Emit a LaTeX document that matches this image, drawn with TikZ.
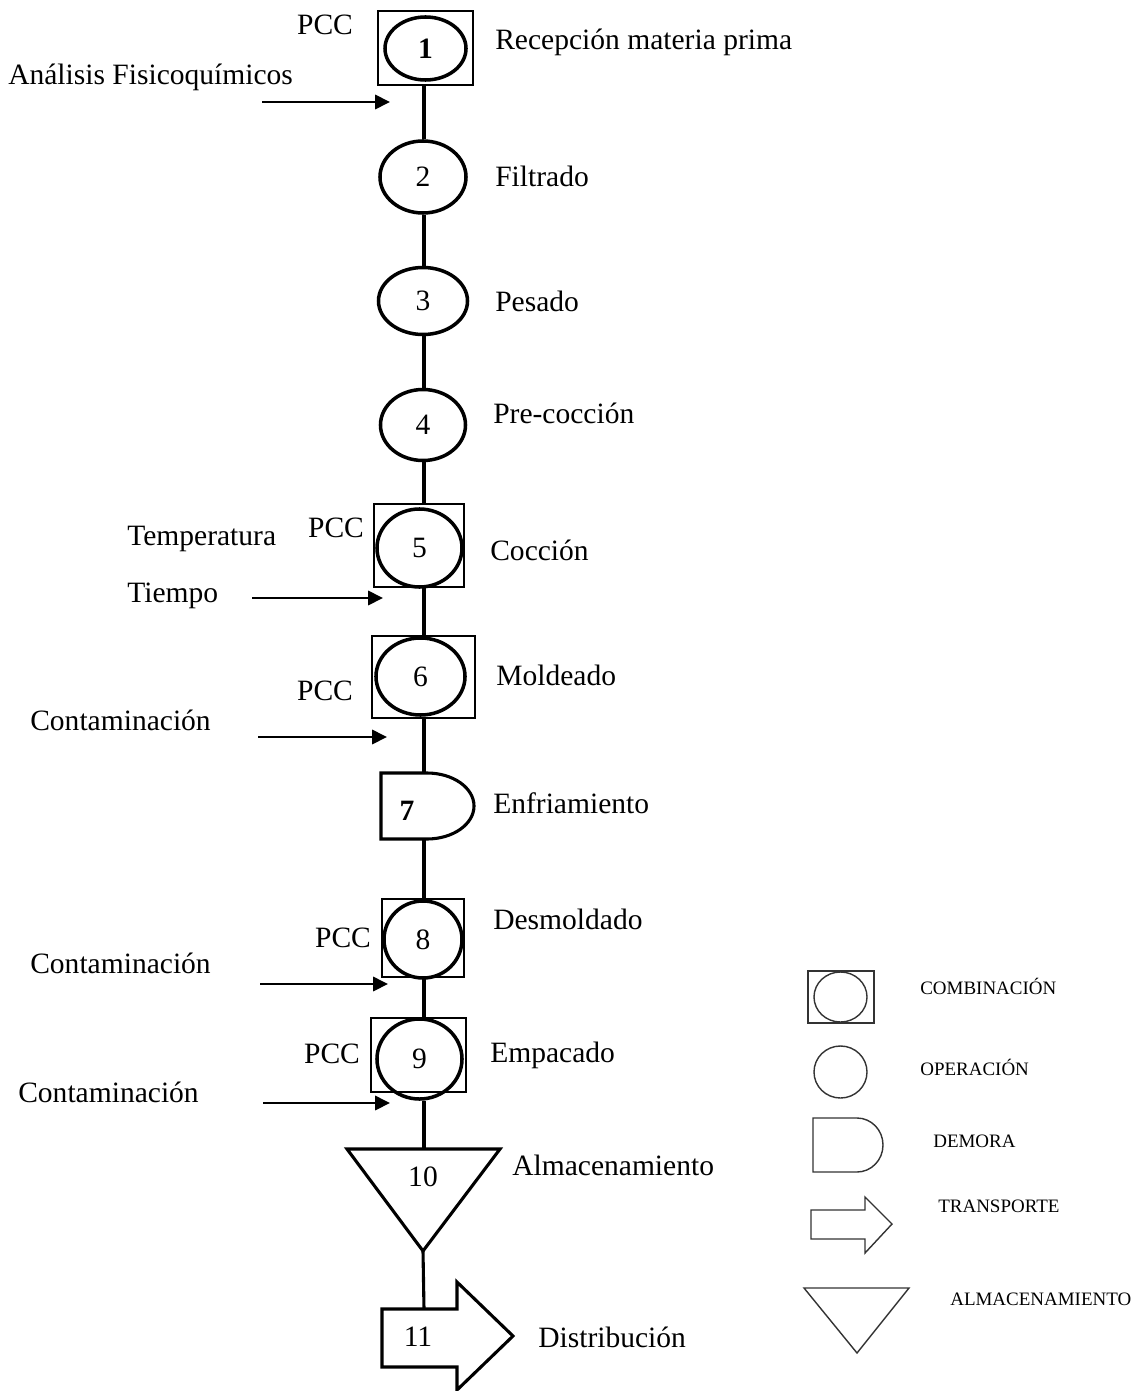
\documentclass[tikz,border=0pt]{standalone}
\usepackage{fontspec}
\setmainfont{Liberation Serif}
\usepackage{tikz}
\usetikzlibrary{shapes.geometric, arrows.meta}
\tikzstyle{combo} = [rectangle, draw=black, line width=2pt, inner sep=0pt]
\tikzstyle{oper} = [ellipse, draw=black, line width=2.5pt, inner sep=0pt, font=\fontsize{21pt}{25pt}\selectfont]
\tikzstyle{num} = [inner sep=0pt, font=\fontsize{21pt}{25pt}\selectfont]
\tikzstyle{txt} = [inner sep=0pt, anchor=base west, font=\fontsize{21pt}{25pt}\selectfont]
\tikzstyle{pcc} = [inner sep=0pt, anchor=base, font=\fontsize{21pt}{25pt}\selectfont]
\tikzstyle{link} = [line width=2.2pt]
\tikzstyle{arrow} = [line width=2pt, -{Triangle[length=10.5pt,width=10pt]}]
\tikzstyle{legbox} = [rectangle, draw=black!80, line width=1pt, inner sep=0pt]
\tikzstyle{legoper} = [ellipse, draw=black!80, line width=1pt, inner sep=0pt]
\tikzstyle{legline} = [draw=black!80, line width=1pt]
\tikzstyle{legtxt} = [inner sep=0pt, anchor=base west, font=\fontsize{13.5pt}{16pt}\selectfont]

\begin{document}
\begin{tikzpicture}[x=0.025cm, y=-0.025cm]
\useasboundingbox (0,0) rectangle (1148,1391);
\coordinate (spine) at (424,0);

% process symbols
\node (c1) [combo, minimum width=2.375cm, minimum height=1.85cm] at (425.5,48) {};
\node (n1) [oper, minimum width=2.025cm, minimum height=1.575cm] at (425.5,48.5) {\textbf{1}};
\node (n2) [oper, minimum width=2.15cm, minimum height=1.8cm] at (423,177) {2};
\node (n3) [oper, minimum width=2.225cm, minimum height=1.675cm] at (423,301) {3};
\node (n4) [oper, minimum width=2.125cm, minimum height=1.775cm] at (423,425) {4};
\node (c5) [combo, minimum width=2.25cm, minimum height=2.075cm] at (419,545.5) {};
\node (n5) [oper, minimum width=2.125cm, minimum height=1.95cm] at (419.5,548) {5};
\node (c6) [combo, minimum width=2.575cm, minimum height=2.05cm] at (423.5,677) {};
\node (n6) [oper, minimum width=2.225cm, minimum height=1.925cm] at (420.5,676.5) {6};
\coordinate (d7n) at (424,773);
\coordinate (d7s) at (424,839);
\draw [line width=2.2pt] (381,773) -- (427,773) arc[start angle=-90, end angle=90, x radius=47, y radius=33] -- (381,839) -- cycle;
\node (n7) [num] at (407,811) {\textbf{7}};
\node (c8) [combo, minimum width=2.05cm, minimum height=1.95cm] at (423,938) {};
\node (n8) [oper, minimum width=1.95cm, minimum height=1.925cm] at (423,939.5) {8};
\node (c9) [combo, minimum width=2.375cm, minimum height=1.85cm] at (418.5,1055) {};
\node (n9) [oper, minimum width=2.125cm, minimum height=2cm] at (419.5,1059) {9};
\coordinate (s10n) at (424,1149);
\coordinate (s10s) at (423,1251);
\draw [line width=2.2pt, line join=miter] (347,1149) -- (500,1149) -- (s10s) -- cycle;
\node (n10) [num] at (423,1177) {10};
\coordinate (t11n) at (424,1309);
\draw [line width=2.2pt, line join=miter] (382,1309) -- (457,1309) -- (457,1282) -- (513,1336) -- (457,1390) -- (457,1367) -- (382,1367) -- cycle;
\node (n11) [num] at (418,1337) {11};

% spine
\draw [link] (spine |- c1.south) -- (spine |- n2.north);
\draw [link] (spine |- n2.south) -- (spine |- n3.north);
\draw [link] (spine |- n3.south) -- (spine |- n4.north);
\draw [link] (spine |- n4.south) -- (spine |- c5.north);
\draw [link] (spine |- c5.south) -- (spine |- c6.north);
\draw [link] (spine |- c6.south) -- (d7n);
\draw [link] (d7s) -- (spine |- c8.north);
\draw [link] (spine |- c8.south) -- (spine |- c9.north);
\draw [link] (spine |- n9.south) -- (s10n);
\draw [link] (s10s) -- (t11n);

% inputs
\coordinate (in1) at (262,102);  \coordinate (to1) at (390,102);
\coordinate (in5) at (252,598);  \coordinate (to5) at (383,598);
\coordinate (in6) at (258,737);  \coordinate (to6) at (387,737);
\coordinate (in8) at (260,984);  \coordinate (to8) at (388,984);
\coordinate (in9) at (263,1103); \coordinate (to9) at (390,1103);
\draw [arrow] (in1) -- (to1);
\draw [arrow] (in5) -- (to5);
\draw [arrow] (in6) -- (to6);
\draw [arrow] (in8) -- (to8);
\draw [arrow] (in9) -- (to9);

% labels
\node (p1) [pcc] at (325,35) {PCC};
\node (l0) [txt] at (8,85) {Análisis Fisicoquímicos};
\node (l1) [txt] at (495,50) {Recepción materia prima};
\node (l2) [txt] at (495,187) {Filtrado};
\node (l3) [txt] at (495,312) {Pesado};
\node (l4) [txt] at (493,423) {Pre-cocción};
\node (p5) [pcc] at (336,537) {PCC};
\node (temp) [txt] at (127,545) {Temperatura};
\node (tiem) [txt] at (127,602) {Tiempo};
\node (l5) [txt] at (490,560) {Cocción};
\node (p6) [pcc] at (325,700) {PCC};
\node (cont6) [txt] at (30,730) {Contaminación};
\node (l6) [txt] at (496,685) {Moldeado};
\node (l7) [txt] at (493,813) {Enfriamiento};
\node (l8) [txt] at (493,929) {Desmoldado};
\node (p8) [pcc] at (343,947) {PCC};
\node (cont8) [txt] at (30,973) {Contaminación};
\node (p9) [pcc] at (332,1063) {PCC};
\node (l9) [txt] at (490,1062) {Empacado};
\node (cont9) [txt] at (18,1102) {Contaminación};
\node (l10) [txt] at (512,1175) {Almacenamiento};
\node (l11) [txt] at (538,1347) {Distribución};

% legend
\node (kcombo) [legbox, minimum width=1.65cm, minimum height=1.3cm] at (841,997) {};
\node (kcomboin) [legoper, minimum width=1.325cm, minimum height=1.25cm] at (840.5,997) {};
\node (koper) [legoper, minimum width=1.325cm, minimum height=1.3cm] at (840.5,1072) {};
\draw [legline] (813,1118) -- (857,1118) arc[start angle=-90, end angle=90, x radius=26, y radius=27] -- (813,1172) -- cycle;
\draw [legline] (811,1210) -- (865,1210) -- (865,1197) -- (892,1224) -- (865,1253) -- (865,1239) -- (811,1239) -- cycle;
\draw [legline] (804,1288) -- (909,1288) -- (857,1353) -- cycle;
\node (kt1) [legtxt] at (920,994) {COMBINACIÓN};
\node (kt2) [legtxt] at (920,1075) {OPERACIÓN};
\node (kt3) [legtxt] at (933,1147) {DEMORA};
\node (kt4) [legtxt] at (938,1212) {TRANSPORTE};
\node (kt5) [legtxt] at (950,1305) {ALMACENAMIENTO};
\end{tikzpicture}
\end{document}
